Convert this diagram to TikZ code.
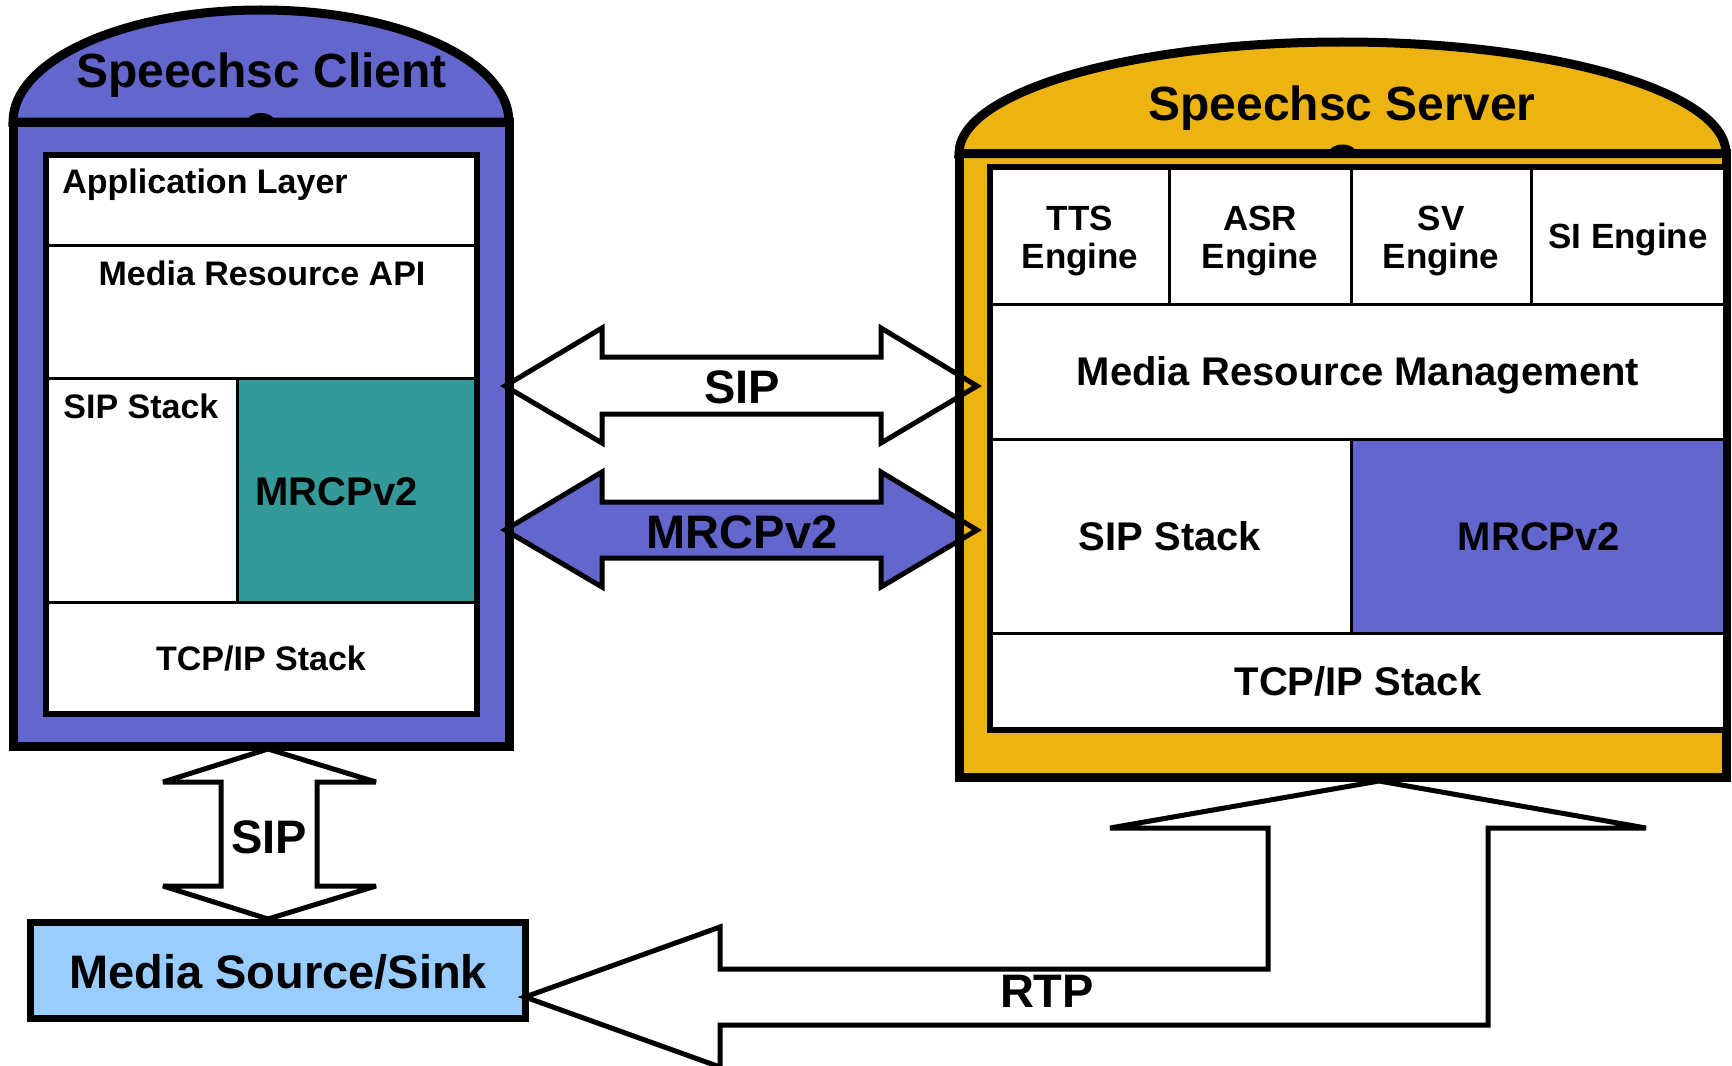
\documentclass[tikz,border=0pt]{standalone}
\usepackage{fontspec}
\setmainfont{Liberation Sans}

\definecolor{clientblue}{RGB}{99,102,204}
\definecolor{mrcpteal}{RGB}{51,153,153}
\definecolor{serverorange}{RGB}{236,179,17}
\definecolor{mediablue}{RGB}{153,204,255}

\tikzset{
  outerframe/.style={draw=black, line width=4.5pt},
  innerframe/.style={draw=black, line width=3pt},
  divider/.style={draw=black, line width=1.5pt},
  fatarrow/.style={draw=black, line width=2.5pt, line join=miter, miter limit=3},
  mediaframe/.style={draw=black, line width=3.5pt, fill=mediablue},
  txt/.style={inner sep=0pt, anchor=base},
  titletxt/.style={txt, font=\bfseries\fontsize{24}{28}\selectfont},
  bigtxt/.style={txt, font=\bfseries\fontsize{23.5}{28}\selectfont},
  midtxt/.style={txt, font=\bfseries\fontsize{20}{24}\selectfont},
  smalltxt/.style={txt, font=\bfseries\fontsize{17}{20}\selectfont},
  enginetxt/.style={txt, font=\bfseries\fontsize{17.5}{20}\selectfont},
}

\begin{document}
\begin{tikzpicture}[x=0.5pt, y=-0.5pt]
\useasboundingbox (0,0) rectangle (1732,1065);
\fill[white] (0,0) rectangle (1732,1065);

% fills of the two horizontal block arrows, kept behind the frames
\path[fill=white, save path=\sipsaved]
  (505,386) -- (602,328) -- (602,357) -- (881,357) -- (881,328) -- (977,386)
  -- (881,443) -- (881,414) -- (602,414) -- (602,443) -- cycle;
\path[fill=clientblue, save path=\mrcpsaved]
  (505,530) -- (602,472) -- (602,502) -- (881,502) -- (881,472) -- (977,530)
  -- (881,587) -- (881,558) -- (602,558) -- (602,587) -- cycle;

% ---------------- client ----------------
\draw[outerframe, fill=clientblue] (13,122) rectangle (509,746);
\draw[outerframe, fill=clientblue] (13,122) .. controls (13,60.1) and (124,10) .. (261,10)
  .. controls (398,10) and (509,60.1) .. (509,122) -- cycle;
\fill[black] (247,122) .. controls (247,117) and (253.3,113) .. (261,113)
  .. controls (268.7,113) and (275,117) .. (275,122) -- cycle;

\draw[innerframe, fill=white] (45.5,154.5) rectangle (477,713.5);
\fill[mrcpteal] (237,378) rectangle (477,602);
\draw[divider] (45.5,245) -- (477,245);
\draw[divider] (45.5,378) -- (477,378);
\draw[divider] (45.5,602) -- (477,602);
\draw[divider] (237,378) -- (237,602);
\draw[innerframe] (45.5,154.5) rectangle (477,713.5);

\node[titletxt] (clienttitle) at (261.5,88) {Speechsc Client};
\node[smalltxt, anchor=base west] (applayer) at (62,193) {Application Layer};
\node[smalltxt] (mrapi) at (262,285) {Media Resource API};
\node[smalltxt, anchor=base west] (csip) at (63,418) {SIP Stack};
\node[midtxt, anchor=base west] (cmrcp) at (255,505) {MRCPv2};
\node[smalltxt] (ctcp) at (261,670) {TCP/IP Stack};

% ---------------- server ----------------
\draw[outerframe, fill=serverorange] (959,153.5) rectangle (1726,777);
\draw[outerframe, fill=serverorange] (959,153.5) .. controls (959,91.9) and (1130.7,42) .. (1342.5,42)
  .. controls (1554.3,42) and (1726,91.9) .. (1726,153.5) -- cycle;
\fill[black] (1328.5,153.5) .. controls (1328.5,148.5) and (1334.8,144.5) .. (1342.5,144.5)
  .. controls (1350.2,144.5) and (1356.5,148.5) .. (1356.5,153.5) -- cycle;

\draw[innerframe, fill=white] (990,167) rectangle (1726,730);
\fill[clientblue] (1351,439) rectangle (1726,633);
\draw[divider] (990,304) -- (1726,304);
\draw[divider] (990,439) -- (1726,439);
\draw[divider] (990,633) -- (1726,633);
\draw[divider] (1169,167) -- (1169,304);
\draw[divider] (1351,167) -- (1351,304);
\draw[divider] (1531,167) -- (1531,304);
\draw[divider] (1351,439) -- (1351,633);
\draw[innerframe] (990,167) rectangle (1726,730);

\node[titletxt] (servertitle) at (1342,120) {Speechsc Server};
\node[enginetxt] (ttsa) at (1080,230) {TTS};
\node[enginetxt] (ttsb) at (1080,268) {Engine};
\node[enginetxt] (asra) at (1260,230) {ASR};
\node[enginetxt] (asrb) at (1260,268) {Engine};
\node[enginetxt] (sva) at (1441,230) {SV};
\node[enginetxt] (svb) at (1441,268) {Engine};
\node[enginetxt] (si) at (1628,248) {SI Engine};
\node[midtxt] (mrm) at (1358,385) {Media Resource Management};
\node[midtxt] (ssip) at (1170,550) {SIP Stack};
\node[midtxt] (smrcp) at (1539,550) {MRCPv2};
\node[midtxt] (stcp) at (1358,695) {TCP/IP Stack};

% outlines of the horizontal block arrows
\draw[fatarrow, use path=\sipsaved];
\draw[fatarrow, use path=\mrcpsaved];
\node[bigtxt] (siplabel) at (742,403) {SIP};
\node[bigtxt] (mrcplabel) at (742,548) {MRCPv2};

% ---------------- client <-> media ----------------
\draw[fatarrow, fill=white] (268,749) -- (376,782) -- (317,782) -- (317,886) -- (376,886)
  -- (268,919) -- (163,886) -- (221,886) -- (221,782) -- (163,782) -- cycle;
\node[bigtxt] (vsiplabel) at (269,853) {SIP};

\draw[mediaframe] (30,922) rectangle (525,1018);
\node[bigtxt] (media) at (278,988) {Media Source/Sink};

% ---------------- RTP bent arrow ----------------
\draw[fatarrow, fill=white] (1379,781) -- (1646,828) -- (1488,828) -- (1488,1025) -- (720,1025)
  -- (720,1067) -- (525,997) -- (720,927) -- (720,969) -- (1268,969) -- (1268,828)
  -- (1110,828) -- cycle;
\node[bigtxt] (rtplabel) at (1047,1007) {RTP};
\end{tikzpicture}
\end{document}
